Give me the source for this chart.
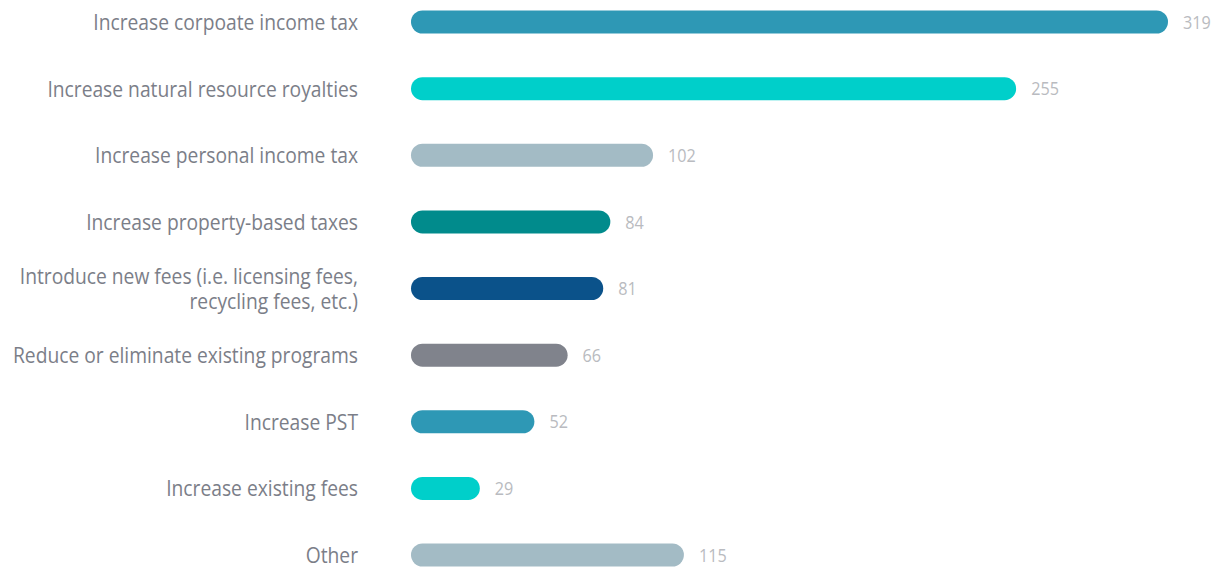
<!DOCTYPE html>
<html>
<head>
<meta charset="utf-8">
<script src="https://cdn.jsdelivr.net/npm/d3@7"></script>
<style>
  html, body { margin: 0; padding: 0; background: #fff; }
  svg { display: block; }
  text { font-family: "Open Sans", sans-serif; }
</style>
</head>
<body>
<script>
const categories = [
  ["Increase corpoate income tax"],
  ["Increase natural resource royalties"],
  ["Increase personal income tax"],
  ["Increase property-based taxes"],
  ["Introduce new fees (i.e. licensing fees,", "recycling fees, etc.)"],
  ["Reduce or eliminate existing programs"],
  ["Increase PST"],
  ["Increase existing fees"],
  ["Other"],
];
const values = [319, 255, 102, 84, 81, 66, 52, 29, 115];
const colors = [
  "#2e98b5", "#00cfca", "#a3bbc5", "#018b8c", "#0b528a",
  "#80838c", "#2e98b5", "#00cfca", "#a3bbc5",
];

const width = 1222;
const height = 567;
const barStart = 411;
const barHeight = 23;
const labelRight = 358;
// the source font is a condensed face, so squeeze Open Sans a bit
const squeeze = 0.875;

const data = values.map((v, i) => ({
  key: i,
  label: categories[i],
  value: v,
  color: colors[i],
}));

const svg = d3
  .select("body")
  .append("svg")
  .attr("width", width)
  .attr("height", height);

const y = d3
  .scalePoint()
  .domain(data.map((d) => d.key))
  .range([22, 555]);

const x = d3
  .scaleLinear()
  .domain([0, 319])
  .range([barStart, 1168]);

svg
  .append("g")
  .selectAll("rect")
  .data(data)
  .enter()
  .append("rect")
  .attr("x", x(0))
  .attr("y", (d) => y(d.key) - barHeight / 2)
  .attr("width", (d) => x(d.value) - x(0))
  .attr("height", barHeight)
  .attr("rx", barHeight / 2)
  .attr("fill", (d) => d.color);

svg
  .append("g")
  .selectAll("text")
  .data(data)
  .enter()
  .append("text")
  .attr(
    "transform",
    (d) => `translate(${x(d.value) + 15} ${y(d.key)}) scale(${squeeze} 1)`
  )
  .attr("dy", "0.36em")
  .attr("font-size", 18.5)
  .attr("fill", "#b9bbc0")
  .text((d) => d.value);

const labels = svg
  .append("g")
  .selectAll("text")
  .data(data)
  .enter()
  .append("text")
  .attr(
    "transform",
    (d) => `translate(${labelRight} ${y(d.key)}) scale(${squeeze} 1)`
  )
  .attr("text-anchor", "end")
  .attr("font-size", 22)
  .attr("fill", "#7b7e88");

labels
  .selectAll("tspan")
  .data((d) =>
    d.label.map((line, j) => ({
      line,
      yy: (j - (d.label.length - 1) / 2) * 25,
    }))
  )
  .enter()
  .append("tspan")
  .attr("x", 0)
  .attr("y", (t) => t.yy)
  .attr("dy", "0.36em")
  .text((t) => t.line);
</script>
</body>
</html>
